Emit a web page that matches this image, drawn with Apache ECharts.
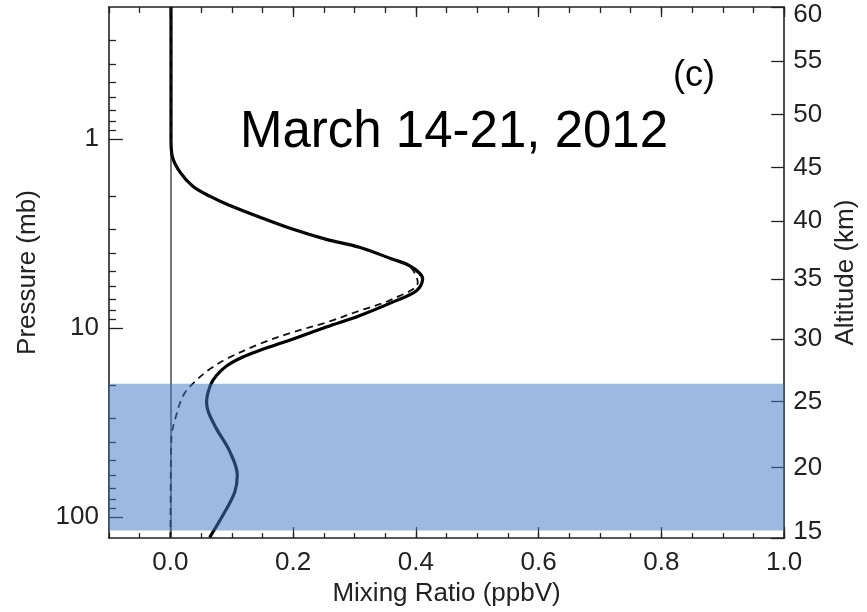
<!DOCTYPE html>
<html>
<head>
<meta charset="utf-8">
<script src="https://cdn.jsdelivr.net/npm/echarts@6/dist/echarts.min.js"></script>
<style>
  html, body { margin: 0; padding: 0; background: #fff; }
  #chart { width: 867px; height: 612px; }
</style>
</head>
<body>
<div id="chart"></div>
<script>
// Retrieved profile (solid) and a priori profile (dashed): pressure in mb, mixing ratio in ppbV
const pressureSolid = [0.2, 0.4, 0.7, 1.0, 1.23, 1.5, 1.78, 2.01, 2.21, 2.59, 3.0, 3.39, 3.73, 4.32, 4.68, 5.5, 6.34, 7.28, 8.59, 9.86, 11.4, 13.1, 14.2, 15.8, 17.8, 20.1, 24.6, 27.8, 34.0, 45.1, 59.9, 73.3, 93.4, 128];
const ratioSolid    = [0.001, 0.001, 0.001, 0.001, 0.003, 0.016, 0.037, 0.065, 0.092, 0.146, 0.200, 0.254, 0.308, 0.362, 0.390, 0.411, 0.401, 0.362, 0.308, 0.254, 0.200, 0.146, 0.118, 0.092, 0.075, 0.065, 0.059, 0.062, 0.075, 0.097, 0.109, 0.105, 0.089, 0.064];

const pressureDashed = [0.2, 0.4, 0.7, 1.0, 1.23, 1.5, 1.78, 2.01, 2.21, 2.59, 3.0, 3.39, 3.73, 4.32, 4.68, 5.73, 7.02, 8.09, 9.31, 10.5, 12.1, 14.5, 16.4, 19.3, 22.7, 30.1, 36.9, 47.0, 70.0, 128];
const ratioDashed    = [0.001, 0.001, 0.001, 0.001, 0.003, 0.016, 0.037, 0.065, 0.092, 0.146, 0.200, 0.254, 0.308, 0.362, 0.389, 0.403, 0.362, 0.308, 0.255, 0.200, 0.146, 0.092, 0.065, 0.039, 0.021, 0.008, 0.002, 0.001, 0.0005, 0.0];

// Axis ticks
const ratioTicks = [0.0, 0.2, 0.4, 0.6, 0.8, 1.0];
const ratioMinorTicks = [-0.1, -0.05, 0.0, 0.05, 0.1, 0.15, 0.2, 0.25, 0.3, 0.35, 0.4, 0.45, 0.5, 0.55, 0.6, 0.65, 0.7, 0.75, 0.8, 0.85, 0.9, 0.95, 1.0];
const pressureTicks = [1, 10, 100];
const pressureMinorTicks = [0.3, 0.4, 0.5, 0.6, 0.7, 0.8, 0.9, 2, 3, 4, 5, 6, 7, 8, 9, 20, 30, 40, 50, 60, 70, 80, 90];

// Altitude scale (km) and the pressure level of each altitude tick
const altitudeKm       = [60, 55, 50, 45, 40, 35, 30, 25, 20, 15];
const altitudePressure = [0.2001, 0.386, 0.743, 1.41, 2.72, 5.50, 11.4, 24.5, 54.6, 128.9];

// Pressure layer shaded in blue (top, bottom) in mb
const shadedLayer = [19.7, 117.7];

const FONT = '"Liberation Sans", Arial, Helvetica, sans-serif';
const INK = '#222';
const FS = 26;

const xRange = { min: -0.1, max: 1.0 };
const yRange = { min: 0.2, max: 129 };

function pairs(ps, vs) { return ps.map((p, i) => [vs[i], p]); }

// Altitude label for a pressure tick; the end labels sit inside the frame
function altitudeLabel(v) {
  let best = 0, bestD = Infinity;
  altitudePressure.forEach((p, i) => {
    const d = Math.abs(Math.log(v) - Math.log(p));
    if (d < bestD) { bestD = d; best = i; }
  });
  const txt = String(altitudeKm[best]);
  if (best === 0) return '{first|' + txt + '}';
  if (best === altitudeKm.length - 1) return '{last|' + txt + '}';
  return txt;
}

const chart = echarts.init(document.getElementById('chart'), null, { renderer: 'canvas' });

const tickLine = { color: INK, width: 1.3 };
const axisLineStyle = { show: true, onZero: false, lineStyle: { color: INK, width: 1.6 } };
const noLine = { show: false, onZero: false };
const labelStyle = { fontSize: FS, color: INK, fontFamily: FONT };

chart.setOption({
  animation: false,
  backgroundColor: '#fff',
  textStyle: { fontFamily: FONT },
  title: [
    { text: 'March 14-21, 2012', left: 235, top: 102,
      textStyle: { fontFamily: FONT, fontSize: 51, fontWeight: 'normal', color: '#000' } },
    { text: '(c)', left: 668, top: 53,
      textStyle: { fontFamily: FONT, fontSize: 36, fontWeight: 'normal', color: '#000' } }
  ],
  grid: { left: 109, right: 82, top: 7, bottom: 72, containLabel: false },
  xAxis: [
    { type: 'value', ...xRange, position: 'bottom',
      axisLine: axisLineStyle,
      axisTick: { show: true, inside: true, length: 11, customValues: ratioTicks, lineStyle: tickLine },
      axisLabel: { customValues: ratioTicks, formatter: v => v.toFixed(1), margin: 12, ...labelStyle },
      splitLine: { show: false },
      name: 'Mixing Ratio (ppbV)', nameLocation: 'middle', nameGap: 39,
      nameTextStyle: labelStyle },
    { type: 'value', ...xRange, position: 'bottom',
      axisLine: noLine,
      axisTick: { show: true, inside: true, length: 5, customValues: ratioMinorTicks, lineStyle: tickLine },
      axisLabel: { show: false }, splitLine: { show: false } },
    { type: 'value', ...xRange, position: 'top',
      axisLine: axisLineStyle,
      axisTick: { show: true, inside: true, length: 6, customValues: ratioMinorTicks, lineStyle: tickLine },
      axisLabel: { show: false }, splitLine: { show: false } },
    { type: 'value', ...xRange, position: 'top',
      axisLine: noLine,
      axisTick: { show: true, inside: true, length: 10, customValues: ratioTicks, lineStyle: tickLine },
      axisLabel: { show: false }, splitLine: { show: false } }
  ],
  yAxis: [
    { type: 'log', logBase: 10, ...yRange, inverse: true, position: 'left',
      axisLine: axisLineStyle,
      axisTick: { show: true, inside: true, length: 14, customValues: pressureTicks, lineStyle: tickLine },
      axisLabel: { customValues: pressureTicks, formatter: v => String(Math.round(v)), margin: 10, ...labelStyle },
      splitLine: { show: false },
      name: 'Pressure (mb)', nameLocation: 'middle', nameGap: 68, nameRotate: 90,
      nameTextStyle: labelStyle },
    { type: 'log', logBase: 10, ...yRange, inverse: true, position: 'left',
      axisLine: noLine,
      axisTick: { show: true, inside: true, length: 7, customValues: pressureMinorTicks, lineStyle: tickLine },
      axisLabel: { show: false }, splitLine: { show: false } },
    { type: 'log', logBase: 10, ...yRange, inverse: true, position: 'right',
      axisLine: axisLineStyle,
      axisTick: { show: true, inside: true, length: 13, customValues: altitudePressure, lineStyle: tickLine },
      axisLabel: { customValues: altitudePressure, formatter: altitudeLabel, margin: 9, ...labelStyle,
                   rich: {
                     first: { fontSize: FS, color: INK, fontFamily: FONT, padding: [16, 0, 0, 0] },
                     last:  { fontSize: FS, color: INK, fontFamily: FONT, padding: [0, 0, 12, 0] }
                   } },
      splitLine: { show: false },
      name: 'Altitude (km)', nameLocation: 'middle', nameGap: 43, nameRotate: 90,
      nameTextStyle: labelStyle }
  ],
  series: [
    { name: 'retrieved', type: 'line', xAxisIndex: 0, yAxisIndex: 0,
      data: pairs(pressureSolid, ratioSolid), smooth: 0.35, symbol: 'none', z: 3,
      lineStyle: { color: '#000', width: 3.2 },
      markLine: { silent: true, symbol: 'none', z: 2, label: { show: false },
        lineStyle: { color: '#555', width: 1.6, type: 'solid' },
        data: [{ xAxis: 0 }] } },
    { name: 'a priori', type: 'line', xAxisIndex: 0, yAxisIndex: 0,
      data: pairs(pressureDashed, ratioDashed), smooth: 0.35, symbol: 'none', z: 3,
      lineStyle: { color: '#111', width: 1.8, type: [7, 5] } },
    { name: 'layer', type: 'custom', xAxisIndex: 0, yAxisIndex: 0, z: 10, silent: true, clip: false,
      data: [[xRange.min, shadedLayer[0], xRange.max, shadedLayer[1]]],
      renderItem: function (params, api) {
        const a = api.coord([api.value(0), api.value(1)]);
        const b = api.coord([api.value(2), api.value(3)]);
        return { type: 'rect',
          shape: { x: a[0], y: a[1], width: b[0] - a[0], height: b[1] - a[1] },
          style: { fill: 'rgba(66,123,198,0.52)' } };
      } }
  ]
});
</script>
</body>
</html>
